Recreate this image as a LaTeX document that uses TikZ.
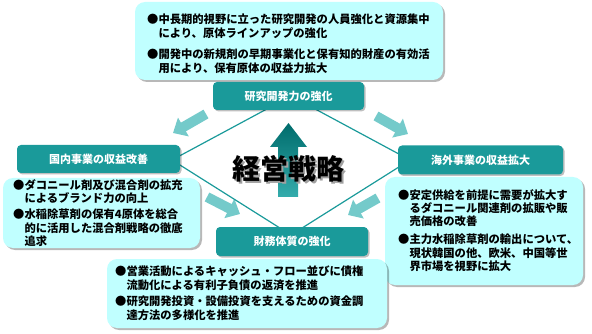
\documentclass[tikz,border=0pt]{standalone}
\usepackage{fontspec}
\usetikzlibrary{arrows.meta,shadows}
\newfontfamily\jp{Noto Sans CJK JP}
\IfFontExistsTF{Noto Sans CJK JP Black}{\newfontfamily\jpblack{Noto Sans CJK JP Black}}{\newcommand\jpblack{\jp\bfseries}}
\definecolor{headc}{RGB}{26,154,154}
\definecolor{lightc}{RGB}{192,255,255}
\definecolor{arrc}{RGB}{116,202,202}
\definecolor{linec}{RGB}{26,154,154}
\definecolor{arrtop}{RGB}{0,108,108}
\definecolor{arrbot}{RGB}{52,172,172}
\definecolor{titlesh}{RGB}{160,160,160}
\tikzset{
  lbox/.style={fill=lightc, rounded corners=10pt, inner sep=0pt,
    drop shadow={shadow xshift=2pt, shadow yshift=-2pt, fill=black, opacity=0.28}},
  headbox/.style={fill=headc, rounded corners=4pt, inner sep=0pt, text=white,
    font=\jp\bfseries\fontsize{11}{13}\selectfont,
    drop shadow={shadow xshift=1.5pt, shadow yshift=-1.5pt, fill=black, opacity=0.25}},
  btxt/.style={anchor=north west, align=left, inner sep=0pt,
    font=\jp\bfseries\fontsize{11.3}{13.3}\selectfont},
  flow/.style={draw=arrc, line width=10pt, -{Triangle[width=21pt,length=12pt]}},
  diam/.style={draw=linec, line width=1.2pt},
}
\begin{document}
\begin{tikzpicture}[x=1pt, y=-1pt]
\useasboundingbox (0,0) rectangle (592,334);
% light boxes
\node[lbox, minimum width=308pt, minimum height=78pt] (topbox) at (289,41) {};
\node[lbox, minimum width=197pt, minimum height=70pt] (leftbox) at (101.5,213) {};
\node[lbox, minimum width=198pt, minimum height=108pt] (rightbox) at (484,231) {};
\node[lbox, minimum width=280pt, minimum height=69pt] (botbox) at (247,293.5) {};
% flow arrows
\coordinate (a1s) at (206,114); \coordinate (a1e) at (173,133);
\coordinate (a2s) at (376,116); \coordinate (a2e) at (408,134);
\coordinate (a3s) at (207,197); \coordinate (a3e) at (240,214);
\coordinate (a4s) at (378,198); \coordinate (a4e) at (348,215);
\draw[flow] (a1s) -- (a1e);
\draw[flow] (a2s) -- (a2e);
\draw[flow] (a3s) -- (a3e);
\draw[flow] (a4s) -- (a4e);
% diamond
\coordinate (dT) at (291,96);
\coordinate (dL) at (172,160);
\coordinate (dB) at (291,235);
\coordinate (dR) at (410,160);
\draw[diam] (dT) -- (dL) -- (dB) -- (dR) -- cycle;
% headers
\node[headbox, minimum width=151pt, minimum height=28pt] (tophead) at (288.5,96) {研究開発力の強化};
\node[headbox, minimum width=163pt, minimum height=28pt] (lefthead) at (98.5,159) {国内事業の収益改善};
\node[headbox, minimum width=165pt, minimum height=29pt] (righthead) at (480.5,160) {海外事業の収益拡大};
\node[headbox, minimum width=152pt, minimum height=29pt] (bothead) at (292,241.5) {財務体質の強化};
% central arrow
\shade[top color=arrtop, bottom color=arrbot]
  (278,197) -- (278,147) -- (270,147) -- (288.5,123) -- (307,147) -- (298,147) -- (298,197) -- cycle;
\node[font=\jpblack\fontsize{28}{30}\selectfont, text=black] (title) at (288.5,169.5)
  {\rlap{\kern2pt\raisebox{-2pt}{\textcolor{titlesh}{経営戦略}}}経営戦略};
% texts
\node[btxt] (t1) at (147,14) {●中長期的視野に立った研究開発の人員強化と資源集中\\\hspace*{1em}により、原体ラインアップの強化};
\node[btxt] (t2) at (147,49) {●開発中の新規剤の早期事業化と保有知的財産の有効活\\\hspace*{1em}用により、保有原体の収益力拡大};
\node[btxt] (l1) at (13,179) {●ダコニール剤及び混合剤の拡充\\\hspace*{1em}によるブランド力の向上};
\node[btxt] (l2) at (13,209) {●水稲除草剤の保有4原体を総合\\\hspace*{1em}的に活用した混合剤戦略の徹底\\\hspace*{1em}追求};
\node[btxt] (r1) at (398,189) {●安定供給を前提に需要が拡大す\\\hspace*{1em}るダコニール関連剤の拡販や販\\\hspace*{1em}売価格の改善};
\node[btxt] (r2) at (398,234) {●主力水稲除草剤の輸出について、\\\hspace*{1em}現状韓国の他、欧米、中国等世\\\hspace*{1em}界市場を視野に拡大};
\node[btxt] (b1) at (115,266) {●営業活動によるキャッシュ・フロー並びに債権\\\hspace*{1em}流動化による有利子負債の返済を推進};
\node[btxt] (b2) at (115,296) {●研究開発投資・設備投資を支えるための資金調\\\hspace*{1em}達方法の多様化を推進};
\end{tikzpicture}
\end{document}
